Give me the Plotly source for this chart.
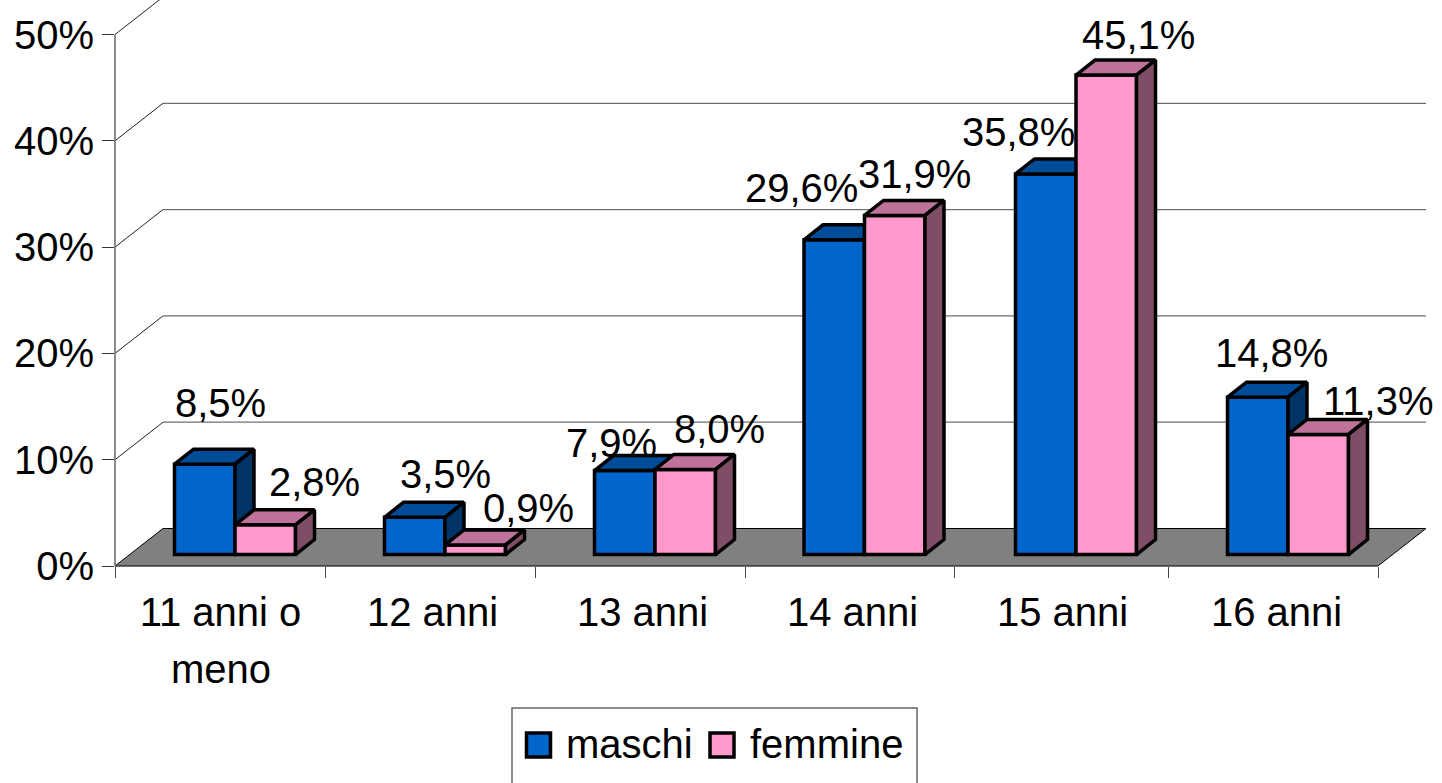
import plotly.graph_objects as go

# ---- data ----
categories = ["11 anni o", "12 anni", "13 anni", "14 anni", "15 anni", "16 anni"]
category_second_line = "meno"
maschi = [8.5, 3.5, 7.9, 29.6, 35.8, 14.8]
femmine = [2.8, 0.9, 8.0, 31.9, 45.1, 11.3]
y_ticks = [0, 10, 20, 30, 40, 50]
y_tick_labels = ["0%", "10%", "20%", "30%", "40%", "50%"]
series_names = ["maschi", "femmine"]

# ---- layout / style constants ----
W, H = 1442, 783
L, B = 115, 217
PLOT_W, PLOT_H = W - L, H - B
PX_PER_PCT = 10.63
FONT = "Liberation Sans"
FS = 40
slot_edges = [0, 210, 420, 630, 839, 1053, 1263]   # x-axis unit = 1 px
label_nudge = [0.5, 2.5, 2.5, 3, 1.5, 3.5]
WALL_DX, WALL_DY = 48, 37.5 / PX_PER_PCT
BAR_W = 60.5
BAR_SHIFT = 15
FLOOR = 1.08
DEPTH_DX, DEPTH_DY = 19, 15 / PX_PER_PCT
LW = 3.5
C_M = ("#0066CC", "#004C99", "#003366")
C_F = ("#FF99CC", "#BF7299", "#804D66")
label_shift_m = [(15.5, 61), (31, 43), (-13, 28), (-33, 52), (-27, 42), (13.5, 44)]
label_shift_f = [(49, 43), (53.5, 37), (34.5, 40), (20, 41), (32.5, 40), (60, 33)]

mids = [(a + b) / 2 for a, b in zip(slot_edges, slot_edges[1:])]
centers = [m + BAR_SHIFT for m in mids]
x_m = [c - BAR_W / 2 for c in centers]
x_f = [c + BAR_W / 2 for c in centers]


def px(x):
    return (x - L) / PLOT_W


def py(y):
    return (PLOT_H - y) / PLOT_H


def faces(xs, vals, fill_top, fill_side, xa, ya):
    out = []
    for x, v in zip(xs, vals):
        x0, x1 = x - BAR_W / 2, x + BAR_W / 2
        t = FLOOR + v
        top_x = [x0, x0 + DEPTH_DX, x1 + DEPTH_DX, x1, x0]
        top_y = [t, t + DEPTH_DY, t + DEPTH_DY, t, t]
        side_x = [x1, x1 + DEPTH_DX, x1 + DEPTH_DX, x1, x1]
        side_y = [FLOOR, FLOOR + DEPTH_DY, t + DEPTH_DY, t, FLOOR]
        for fx, fy, col in ((top_x, top_y, fill_top), (side_x, side_y, fill_side)):
            out.append(go.Scatter(x=fx, y=fy, mode="lines", fill="toself", fillcolor=col,
                                  line=dict(color="black", width=LW), xaxis=xa, yaxis=ya,
                                  showlegend=False, hoverinfo="skip"))
    return out


fig = go.Figure()
fig.add_trace(go.Bar(x=x_m, y=maschi, base=FLOOR, width=BAR_W, name=series_names[0],
                     marker=dict(color=C_M[0], line=dict(color="black", width=LW)),
                     xaxis="x", yaxis="y", showlegend=False))
fig.add_traces(faces(x_m, maschi, C_M[1], C_M[2], "x", "y"))
fig.add_trace(go.Bar(x=x_f, y=femmine, base=FLOOR, width=BAR_W, name=series_names[1],
                     marker=dict(color=C_F[0], line=dict(color="black", width=LW)),
                     xaxis="x2", yaxis="y2", showlegend=False))
fig.add_traces(faces(x_f, femmine, C_F[1], C_F[2], "x2", "y2"))

shapes = []
x_end = slot_edges[-1]
# floor
shapes.append(dict(type="path", layer="below", xref="x", yref="y", fillcolor="#808080",
                   line=dict(color="black", width=1),
                   path=f"M0,0 L{WALL_DX},{WALL_DY} L{x_end + WALL_DX},{WALL_DY} L{x_end},0 Z"))
# wall gridlines
for v in y_ticks[1:]:
    shapes.append(dict(type="line", layer="below", xref="x", yref="y", x0=0, y0=v,
                       x1=WALL_DX, y1=v + WALL_DY, line=dict(color="#222222", width=1)))
    shapes.append(dict(type="line", layer="below", xref="x", yref="y", x0=WALL_DX, y0=v + WALL_DY,
                       x1=x_end + WALL_DX, y1=v + WALL_DY, line=dict(color="#6f6f6f", width=1.3)))
# axis lines
shapes.append(dict(type="line", layer="above", xref="paper", yref="paper", x0=0, x1=0, y0=0,
                   y1=50 * PX_PER_PCT / PLOT_H, line=dict(color="#666666", width=1.5)))
shapes.append(dict(type="line", layer="above", xref="paper", yref="paper", x0=0,
                   x1=x_end / PLOT_W, y0=0, y1=0, line=dict(color="#444444", width=1.5)))
# legend box (its lower edge runs off the page)
shapes.append(dict(type="rect", xref="paper", yref="paper", x0=px(512), x1=px(917), y0=py(800), y1=py(708),
                   fillcolor="white", line=dict(color="#666666", width=1.5)))
for x0, c in ((526.5, C_M[0]), (710, C_F[0])):
    shapes.append(dict(type="rect", xref="paper", yref="paper", x0=px(x0), x1=px(x0 + 24),
                       y0=py(757), y1=py(733), fillcolor=c, line=dict(color="black", width=3.5)))

ann = []
for xs, vals, shifts in ((x_m, maschi, label_shift_m), (x_f, femmine, label_shift_f)):
    for x, v, (dx, dy) in zip(xs, vals, shifts):
        ann.append(dict(x=x, y=FLOOR + v, xref="x", yref="y", text=f"{v:.1f}%".replace(".", ","),
                        showarrow=False, xanchor="center", yanchor="middle", xshift=dx, yshift=dy,
                        font=dict(family=FONT, size=FS, color="black")))
ann.append(dict(x=px(221), y=py(669), xref="paper", yref="paper", text=category_second_line,
                showarrow=False, xanchor="center", yanchor="middle",
                font=dict(family=FONT, size=FS, color="black")))
for x, name in ((564, series_names[0]), (748, series_names[1])):
    ann.append(dict(x=px(x), y=py(744), xref="paper", yref="paper", text=name, showarrow=False,
                    xanchor="left", yanchor="middle", font=dict(family=FONT, size=FS, color="black")))

axis_font = dict(family=FONT, size=FS, color="black")
fig.update_layout(
    width=W, height=H, margin=dict(l=L, r=0, t=0, b=B, pad=0),
    paper_bgcolor="white", plot_bgcolor="white", barmode="overlay", showlegend=False,
    font=axis_font, shapes=shapes, annotations=ann,
    xaxis=dict(range=[0, PLOT_W], tickmode="array",
               tickvals=[m + n for m, n in zip(mids, label_nudge)], ticktext=categories,
               ticks="", showgrid=False, zeroline=False, showline=False, tickfont=axis_font,
               ticklabelstandoff=19,
               minor=dict(tickmode="array", tickvals=slot_edges, ticks="outside", ticklen=11,
                          tickwidth=1, tickcolor="#444444", showgrid=False)),
    yaxis=dict(range=[0, PLOT_H / PX_PER_PCT], tickmode="array", tickvals=y_ticks, ticktext=y_tick_labels,
               ticks="outside", ticklen=12, tickwidth=1, tickcolor="#333333", showgrid=False,
               zeroline=False, showline=False, tickfont=axis_font, ticklabelstandoff=0),
    xaxis2=dict(overlaying="x", matches="x", visible=False, anchor="y2"),
    yaxis2=dict(overlaying="y", matches="y", visible=False, anchor="x2"),
)

fig.write_html("out.html", config={"displayModeBar": False},
               post_script="document.body.style.margin='0';document.body.style.overflow='hidden';")
